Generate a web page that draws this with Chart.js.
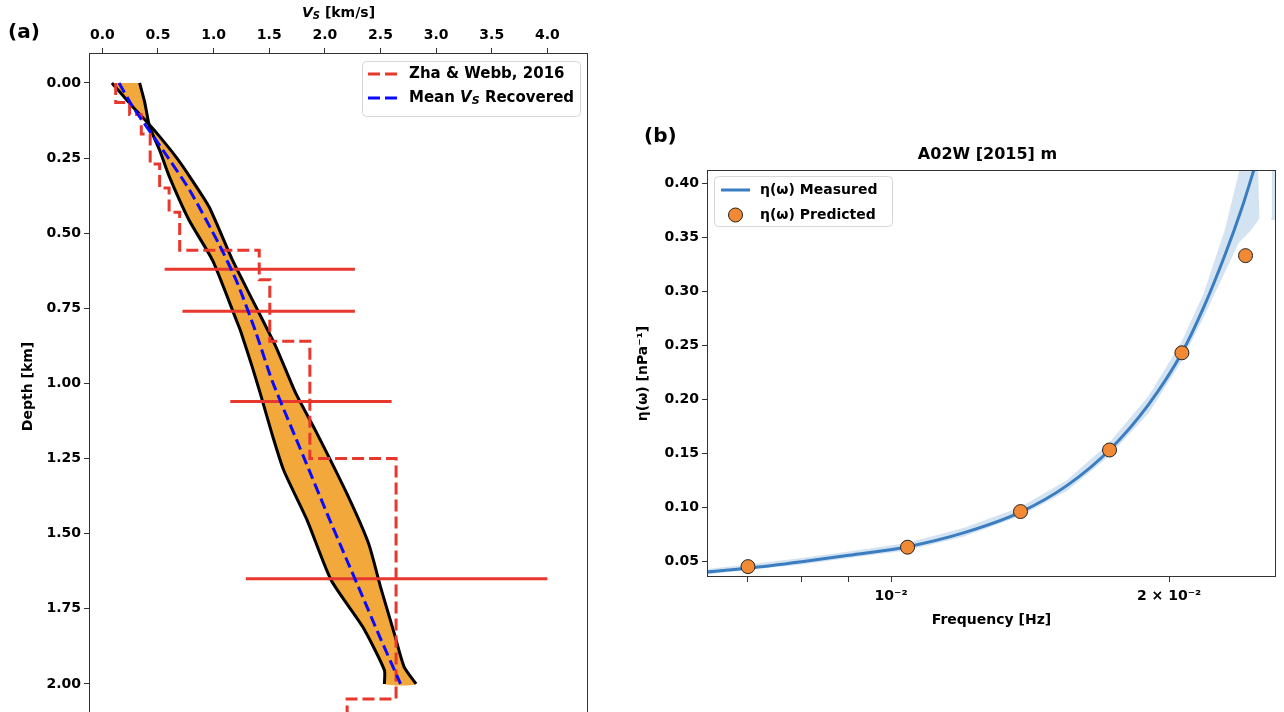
<!DOCTYPE html>
<html>
<head>
<meta charset="utf-8">
<script src="https://cdn.jsdelivr.net/npm/chart.js@4.4.1/dist/chart.umd.min.js"></script>
<style>
  html, body { margin: 0; padding: 0; background: #fff; overflow: hidden; width: 1284px; height: 712px; }
  #velChart { position: absolute; left: 0; top: 0; }
  #etaChart { position: absolute; left: 630px; top: 100px; }
</style>
</head>
<body>
<canvas id="velChart" width="600" height="740"></canvas>
<canvas id="etaChart" width="654" height="540"></canvas>
<script>
// ---- (a) shear velocity profile ----
const vsTicks = [0, 0.5, 1.0, 1.5, 2.0, 2.5, 3.0, 3.5, 4.0];
const vsTickLabels = ['0.0', '0.5', '1.0', '1.5', '2.0', '2.5', '3.0', '3.5', '4.0'];
const depthTicks = [0, 0.25, 0.5, 0.75, 1.0, 1.25, 1.5, 1.75, 2.0];
const depthTickLabels = ['0.00', '0.25', '0.50', '0.75', '1.00', '1.25', '1.50', '1.75', '2.00'];

// envelope edges of recovered Vs
const edge1Vs    = [0.086, 0.25, 0.40, 0.48, 0.67, 0.80, 0.96, 1.17, 1.35, 1.56, 1.74, 1.915, 2.197, 2.393, 2.50, 2.624, 2.712, 2.82];
const edge1Depth = [0.0, 0.07, 0.13, 0.163, 0.25, 0.32, 0.413, 0.59, 0.723, 0.878, 1.034, 1.156, 1.366, 1.533, 1.677, 1.832, 1.943, 2.0];
const edge2Vs    = [0.335, 0.38, 0.425, 0.515, 0.60, 0.78, 0.99, 1.205, 1.24, 1.347, 1.42, 1.524, 1.63, 1.84, 2.057, 2.34, 2.535, 2.535];
const edge2Depth = [0.0, 0.063, 0.146, 0.224, 0.31, 0.457, 0.59, 0.79, 0.823, 0.945, 1.034, 1.167, 1.289, 1.455, 1.655, 1.81, 1.954, 2.0];

const meanVs    = [0.15, 0.275, 0.545, 0.785, 1.045, 1.215, 1.38, 1.525, 1.81, 2.02, 2.2, 2.34, 2.48, 2.68];
const meanDepth = [0.0, 0.08, 0.224, 0.357, 0.534, 0.667, 0.83, 0.99, 1.245, 1.433, 1.59, 1.71, 1.832, 2.0];

// Zha & Webb, 2016 layered model
const zhaVs    = [0.12, 0.12, 0.245, 0.245, 0.35, 0.35, 0.43, 0.43, 0.515, 0.515, 0.60, 0.60, 0.695, 0.695, 1.41, 1.41, 1.505, 1.505, 1.865, 1.865, 2.64, 2.64, 2.2, 2.2];
const zhaDepth = [0.0, 0.065, 0.065, 0.105, 0.105, 0.17, 0.17, 0.27, 0.27, 0.35, 0.35, 0.43, 0.43, 0.557, 0.557, 0.655, 0.655, 0.86, 0.86, 1.25, 1.25, 2.05, 2.05, 2.3];

// horizontal error bars
const errDepth = [0.62, 0.76, 1.06, 1.65];
const errLow   = [0.56, 0.72, 1.15, 1.29];
const errHigh  = [2.27, 2.27, 2.60, 4.00];

// ---- (b) eta(omega) ----
const freqTicks = [0.007, 0.008, 0.009, 0.01, 0.02];
const freqTickLabels = ['', '', '', '10⁻²', '2 × 10⁻²'];
const etaTicks = [0.05, 0.10, 0.15, 0.20, 0.25, 0.30, 0.35, 0.40];
const etaTickLabels = ['0.05', '0.10', '0.15', '0.20', '0.25', '0.30', '0.35', '0.40'];

const freqMeasured = [0.0062, 0.0070, 0.0080, 0.0090, 0.01042, 0.0120, 0.01381, 0.0155, 0.01724, 0.0190, 0.02065, 0.0218, 0.0230, 0.0240, 0.0247, 0.0255];
const etaMeasured  = [0.0395, 0.0435, 0.0495, 0.0555, 0.0635, 0.0765, 0.0955, 0.120, 0.1530, 0.195, 0.2430, 0.285, 0.334, 0.378, 0.412, 0.45];

const freqBand     = [0.0062, 0.007, 0.008, 0.009, 0.0104, 0.012, 0.0138, 0.0155, 0.0172, 0.019, 0.0206, 0.0218, 0.023, 0.0238, 0.0245, 0.0249, 0.02505, 0.0258, 0.02585, 0.027];
const etaBandUpper = [0.042, 0.047, 0.053, 0.059, 0.067, 0.081, 0.100, 0.125, 0.159, 0.203, 0.252, 0.298, 0.358, 0.410, 0.450, 0.450, 0.368, 0.368, 0.450, 0.450];
const etaBandLower = [0.037, 0.042, 0.047, 0.053, 0.060, 0.073, 0.092, 0.115, 0.147, 0.187, 0.234, 0.276, 0.318, 0.345, 0.356, 0.364, 0.368, 0.368, 0.366, 0.366];

const freqPredicted = [0.0070, 0.01042, 0.01381, 0.01724, 0.02065, 0.0242];
const etaPredicted  = [0.045, 0.063, 0.096, 0.153, 0.243, 0.333];

const FONT = '"DejaVu Sans", sans-serif';
const zip = (xs, ys) => xs.map((x, i) => ({ x: x, y: ys[i] }));

function boldFont(size) {
    return { family: FONT, size: size, weight: 'bold' };
}

function frame(ctx, x, y, w, h) {
    ctx.save();
    ctx.beginPath();
    ctx.roundRect(x, y, w, h, 4);
    ctx.fillStyle = 'rgba(255,255,255,0.85)';
    ctx.fill();
    ctx.strokeStyle = '#d6d6d6';
    ctx.lineWidth = 1;
    ctx.stroke();
    ctx.restore();
}

function areaBox(chart) {
    const { ctx, chartArea: a } = chart;
    ctx.save();
    ctx.strokeStyle = '#333';
    ctx.lineWidth = 1;
    ctx.strokeRect(Math.round(a.left) + 0.5, Math.round(a.top) + 0.5,
        Math.round(a.right - a.left) - 1, Math.round(a.bottom - a.top) - 1);
    ctx.restore();
}

// draws "V" with subscript "S", returns width
function drawVs(ctx, x, y, size) {
    ctx.font = 'italic bold ' + size + 'px ' + FONT;
    ctx.fillText('V', x, y);
    let w = ctx.measureText('V').width;
    ctx.font = 'italic bold ' + Math.round(size * 0.7) + 'px ' + FONT;
    ctx.fillText('S', x + w, y + size * 0.22);
    w += ctx.measureText('S').width;
    return w;
}

function vsWidth(ctx, size) {
    ctx.font = 'italic bold ' + size + 'px ' + FONT;
    let w = ctx.measureText('V').width;
    ctx.font = 'italic bold ' + Math.round(size * 0.7) + 'px ' + FONT;
    return w + ctx.measureText('S').width;
}

const panelA = {
    id: 'panelA',
    afterDraw(chart) {
        const ctx = chart.ctx;
        areaBox(chart);
        ctx.save();
        ctx.fillStyle = '#000';
        ctx.textBaseline = 'middle';

        ctx.font = 'bold 20px ' + FONT;
        ctx.fillText('(a)', 8, 33);

        // top axis title
        const a = chart.chartArea;
        const tSize = 14;
        const rest = ' [km/s]';
        const vw = vsWidth(ctx, tSize);
        ctx.font = 'bold ' + tSize + 'px ' + FONT;
        const total = vw + ctx.measureText(rest).width;
        let x = (a.left + a.right) / 2 - total / 2;
        x += drawVs(ctx, x, 13, tSize);
        ctx.font = 'bold ' + tSize + 'px ' + FONT;
        ctx.fillText(rest, x, 13);

        // legend
        frame(ctx, 362.5, 61.5, 218, 55);
        ctx.lineWidth = 3;
        ctx.setLineDash([12, 5]);
        ctx.strokeStyle = '#e8372c';
        ctx.beginPath(); ctx.moveTo(368, 74); ctx.lineTo(398, 74); ctx.stroke();
        ctx.strokeStyle = '#0a0aff';
        ctx.beginPath(); ctx.moveTo(368, 98); ctx.lineTo(398, 98); ctx.stroke();
        ctx.setLineDash([]);
        const lSize = 15;
        ctx.font = 'bold ' + lSize + 'px ' + FONT;
        ctx.fillText('Zha & Webb, 2016', 409, 74);
        x = 409;
        ctx.fillText('Mean ', x, 98);
        x += ctx.measureText('Mean ').width;
        x += drawVs(ctx, x, 98, lSize);
        ctx.font = 'bold ' + lSize + 'px ' + FONT;
        ctx.fillText(' Recovered', x, 98);
        ctx.restore();
    }
};

const panelB = {
    id: 'panelB',
    afterDraw(chart) {
        const ctx = chart.ctx;
        const a = chart.chartArea;
        areaBox(chart);
        ctx.save();
        ctx.fillStyle = '#000';
        ctx.textBaseline = 'middle';
        ctx.font = 'bold 20px ' + FONT;
        ctx.fillText('(b)', 14, 37);

        ctx.font = 'bold 16px ' + FONT;
        ctx.textAlign = 'center';
        ctx.fillText('A02W [2015] m', (a.left + a.right) / 2 - 4, 55);
        ctx.textAlign = 'left';

        frame(ctx, 84.5, 76.5, 178, 50);
        ctx.strokeStyle = '#3a7dc0';
        ctx.lineWidth = 3;
        ctx.beginPath(); ctx.moveTo(91, 90); ctx.lineTo(120, 90); ctx.stroke();
        ctx.beginPath();
        ctx.arc(105.5, 115, 7, 0, Math.PI * 2);
        ctx.fillStyle = '#f28a35';
        ctx.fill();
        ctx.lineWidth = 1;
        ctx.strokeStyle = '#222';
        ctx.stroke();
        ctx.fillStyle = '#000';
        ctx.font = 'bold 14px ' + FONT;
        ctx.fillText('η(ω) Measured', 130, 90);
        ctx.fillText('η(ω) Predicted', 130, 115);
        ctx.restore();
    }
};

function tickAxis(values, labels, extra) {
    return Object.assign({
        afterBuildTicks: (s) => { s.ticks = values.map(v => ({ value: v })); },
        ticks: {
            callback: (v, i) => labels[i],
            font: boldFont(14),
            color: '#000',
            maxRotation: 0,
            autoSkip: false
        },
        grid: { drawOnChartArea: false, drawTicks: true, tickLength: 5, color: '#333' },
        border: { display: false }
    }, extra);
}

// envelope polygon: down one edge, back up the other
const bandA = zip(edge1Vs, edge1Depth).concat(zip(edge2Vs, edge2Depth).reverse());

const errSets = errDepth.map((d, i) => ({
    data: [{ x: errLow[i], y: d }, { x: errHigh[i], y: d }],
    showLine: true,
    borderColor: '#e8372c',
    borderWidth: 3,
    pointRadius: 0,
    order: 5
}));

const velX = tickAxis(vsTicks, vsTickLabels, { type: 'linear', position: 'top', min: -0.12, max: 4.365,
    afterFit: (s) => { s.height = 53; } });
velX.ticks.padding = 4;
const velY = tickAxis(depthTicks, depthTickLabels, { type: 'linear', position: 'left', reverse: true, min: -0.0996, max: 2.12,
    afterFit: (s) => { s.width = 89; },
    title: { display: true, text: 'Depth [km]', font: boldFont(14), color: '#000', padding: { top: 20, bottom: 0 } } });
velY.ticks.padding = 3;

new Chart(document.getElementById('velChart'), {
    type: 'scatter',
    data: {
        datasets: [
            { data: bandA, showLine: true, fill: 'shape', backgroundColor: 'rgb(243,168,60)', borderColor: 'rgba(0,0,0,0)', borderWidth: 1, pointRadius: 0, tension: 0.2, order: 10 },
            { data: zip(edge1Vs, edge1Depth), showLine: true, borderColor: '#000', borderWidth: 3, pointRadius: 0, tension: 0.2, order: 8 },
            { data: zip(edge2Vs, edge2Depth), showLine: true, borderColor: '#000', borderWidth: 3, pointRadius: 0, tension: 0.2, order: 8 },
            { data: zip(zhaVs, zhaDepth), showLine: true, borderColor: '#e8372c', borderDash: [12, 5], borderWidth: 3, pointRadius: 0, order: 6 },
            ...errSets,
            { data: zip(meanVs, meanDepth), showLine: true, borderColor: '#0a0aff', borderDash: [11, 5], borderWidth: 3, pointRadius: 0, tension: 0.2, order: 4 }
        ]
    },
    options: {
        responsive: false,
        animation: false,
        layout: { padding: { top: 0, right: 12, bottom: 20, left: 0 } },
        plugins: { legend: { display: false }, tooltip: { enabled: false } },
        scales: { x: velX, y: velY }
    },
    plugins: [panelA]
});

// ---- (b) ----
const bandB = zip(freqBand, etaBandUpper).concat(zip(freqBand, etaBandLower).reverse());

const etaX = tickAxis(freqTicks, freqTickLabels, { type: 'logarithmic', position: 'bottom', min: 0.00632, max: 0.02611,
    afterFit: (s) => { s.height = 63; },
    title: { display: true, text: 'Frequency [Hz]', font: boldFont(14), color: '#000', padding: { top: 0, bottom: 11 } } });
etaX.ticks.padding = 6;
const etaY = tickAxis(etaTicks, etaTickLabels, { type: 'linear', position: 'left', min: 0.0354, max: 0.4123,
    afterFit: (s) => { s.width = 77; },
    title: { display: true, text: 'η(ω) [nPa⁻¹]', font: boldFont(14), color: '#000', padding: { top: 5, bottom: 0 } } });
etaY.ticks.padding = 3;

new Chart(document.getElementById('etaChart'), {
    type: 'scatter',
    data: {
        datasets: [
            { data: bandB, showLine: true, fill: 'shape', backgroundColor: 'rgba(100,155,210,0.28)', borderColor: 'rgba(0,0,0,0)', borderWidth: 1, pointRadius: 0, order: 10 },
            { data: zip(freqMeasured, etaMeasured), showLine: true, borderColor: '#3a7dc0', borderWidth: 3, pointRadius: 0, cubicInterpolationMode: 'monotone', order: 6 },
            { data: zip(freqPredicted, etaPredicted), showLine: false, backgroundColor: '#f28a35', borderColor: '#222', borderWidth: 1, pointRadius: 7, order: 2 }
        ]
    },
    options: {
        responsive: false,
        animation: false,
        layout: { padding: { top: 70, right: 2, bottom: 0, left: 0 } },
        plugins: { legend: { display: false }, tooltip: { enabled: false } },
        scales: { x: etaX, y: etaY }
    },
    plugins: [panelB]
});
</script>
</body>
</html>
